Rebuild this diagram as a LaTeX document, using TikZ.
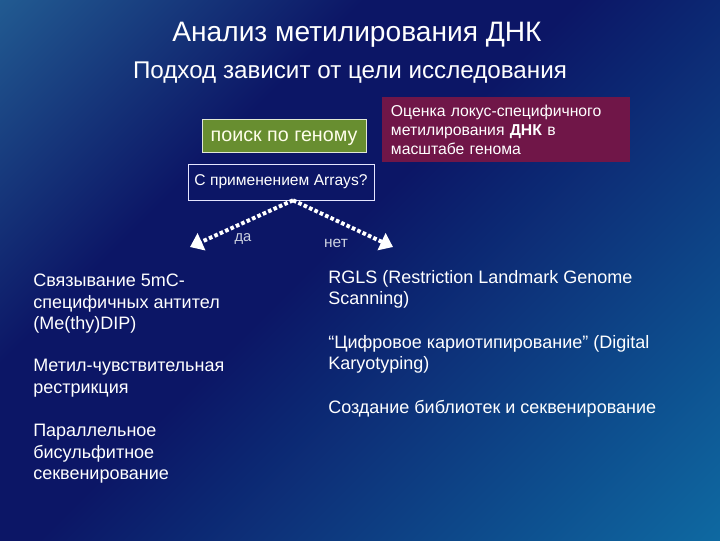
\documentclass[tikz,border=0pt]{standalone}
\usepackage{fontspec}
\setmainfont{Liberation Sans}
\usetikzlibrary{arrows.meta}

\definecolor{bgtl}{RGB}{34,92,146}
\definecolor{bgmid}{RGB}{12,22,102}
\definecolor{bgbr}{RGB}{14,106,162}
\definecolor{genomegreen}{RGB}{104,142,48}
\definecolor{locusred}{RGB}{112,22,72}
\definecolor{labelgray}{RGB}{205,210,225}
\pgfdeclarehorizontalshading{slidebg}{100bp}{color(0bp)=(bgtl); color(14bp)=(bgtl); color(35bp)=(bgmid); color(47bp)=(bgmid); color(86bp)=(bgbr); color(100bp)=(bgbr)}

\begin{document}
\begin{tikzpicture}[x=0.025cm, y=-0.025cm, every node/.style={text=white, inner sep=0pt},
        body/.style={anchor=north west, align=left, font=\fontsize{12.8}{15.2}\selectfont},
        choice/.style={white, line width=2.8pt, dash pattern=on 2.6pt off 1.6pt, -{Triangle[width=13pt,length=9pt]}}]
        % Slide background
        \useasboundingbox (0,0) rectangle (720,540);
        \shade[shading=slidebg, shading angle=-45] (0,0) rectangle (720,540);

        % Title and subtitle
        \node[font=\fontsize{20}{24}\selectfont, anchor=base] (title) at (357,41) {Анализ метилирования ДНК};
        \node[font=\fontsize{17.2}{20}\selectfont, anchor=base] (subtitle) at (350,78.5) {Подход зависит от цели исследования};

        % Boxes
        \node[fill=genomegreen, draw=white!80!genomegreen, thin, minimum width=4.1cm, minimum height=0.825cm,
              text depth=0pt, text=yellow!8, font=\fontsize{14}{16}\selectfont] (genome) at (284,136) {поиск по геному};
        \node[fill=locusred, minimum width=6.2cm, minimum height=1.625cm, text width=5.75cm, align=left,
              font=\fontsize{11.2}{13.5}\selectfont] (locus) at (506,129.5)
              {Оценка локус-специфичного\\метилирования \textbf{ДНК} в\\масштабе генома};
        \node[draw=white!90!blue, thin, minimum width=4.65cm, minimum height=0.9cm,
              font=\fontsize{11.1}{13}\selectfont] (arrays) at (281,182) {С применением Arrays?};

        % Yes / no branches
        \coordinate (yes) at (190,247);
        \coordinate (no) at (393,247);
        \foreach \e in {yes,no}{
            \draw[choice] ([xshift=0.3cm]arrays.south) -- (\e);
        }
        \node[text=labelgray, font=\fontsize{10.5}{12}\selectfont] (yeslab) at (243,239) {да};
        \node[text=labelgray, font=\fontsize{11}{12}\selectfont] (nolab) at (336,243) {нет};

        % Methods with arrays
        \node[body] (medip) at (33,274) {Связывание 5mC-\\специфичных антител\\(Me(thy)DIP)};
        \node[body] (restr) at (33,359) {Метил-чувствительная\\рестрикция};
        \node[body] (bisulf) at (33,424) {Параллельное\\бисульфитное\\секвенирование};

        % Methods without arrays
        \node[body] (rlgs) at (328,270) {RGLS (Restriction Landmark Genome\\Scanning)};
        \node[body] (karyo) at (328,335) {“Цифровое кариотипирование” (Digital\\Karyotyping)};
        \node[body] (seq) at (328,400) {Создание библиотек и секвенирование};
    \end{tikzpicture}
\end{document}
